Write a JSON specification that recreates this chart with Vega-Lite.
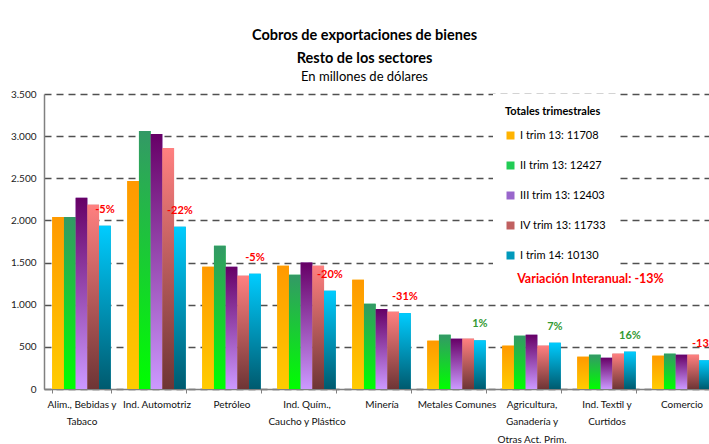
{
  "$schema": "https://vega.github.io/schema/vega-lite/v6.json",
  "width": 675,
  "height": 295,
  "autosize": {"type": "none"},
  "padding": {"left": 44, "top": 94, "right": 0, "bottom": 55},
  "background": "white",
  "config": {"view": {"stroke": null}, "font": "Lato"},
  "title": {
    "text": ["Cobros de exportaciones de bienes", "Resto de los sectores"],
    "subtitle": "En millones de dólares",
    "anchor": "middle",
    "frame": "group",
    "dx": -17,
    "offset": 4,
    "font": "Lato",
    "fontSize": 14.5,
    "fontWeight": "bold",
    "lineHeight": 23,
    "color": "black",
    "subtitleFont": "Lato",
    "subtitleFontSize": 13,
    "subtitleColor": "black",
    "subtitlePadding": 5
  },
  "datasets": {
    "barras": [
      {"sector": "Alim., Bebidas y|Tabaco", "serie": "I trim 13: 11708", "valor": 2042},
      {"sector": "Alim., Bebidas y|Tabaco", "serie": "II trim 13: 12427", "valor": 2042},
      {"sector": "Alim., Bebidas y|Tabaco", "serie": "III trim 13: 12403", "valor": 2268},
      {"sector": "Alim., Bebidas y|Tabaco", "serie": "IV trim 13: 11733", "valor": 2185},
      {"sector": "Alim., Bebidas y|Tabaco", "serie": "I trim 14: 10130", "valor": 1936},
      {"sector": "Ind. Automotriz", "serie": "I trim 13: 11708", "valor": 2469},
      {"sector": "Ind. Automotriz", "serie": "II trim 13: 12427", "valor": 3062},
      {"sector": "Ind. Automotriz", "serie": "III trim 13: 12403", "valor": 3026},
      {"sector": "Ind. Automotriz", "serie": "IV trim 13: 11733", "valor": 2860},
      {"sector": "Ind. Automotriz", "serie": "I trim 14: 10130", "valor": 1924},
      {"sector": "Petróleo", "serie": "I trim 13: 11708", "valor": 1450},
      {"sector": "Petróleo", "serie": "II trim 13: 12427", "valor": 1699},
      {"sector": "Petróleo", "serie": "III trim 13: 12403", "valor": 1450},
      {"sector": "Petróleo", "serie": "IV trim 13: 11733", "valor": 1343},
      {"sector": "Petróleo", "serie": "I trim 14: 10130", "valor": 1367},
      {"sector": "Ind. Quím.,|Caucho y Plástico", "serie": "I trim 13: 11708", "valor": 1462},
      {"sector": "Ind. Quím.,|Caucho y Plástico", "serie": "II trim 13: 12427", "valor": 1355},
      {"sector": "Ind. Quím.,|Caucho y Plástico", "serie": "III trim 13: 12403", "valor": 1501},
      {"sector": "Ind. Quím.,|Caucho y Plástico", "serie": "IV trim 13: 11733", "valor": 1462},
      {"sector": "Ind. Quím.,|Caucho y Plástico", "serie": "I trim 14: 10130", "valor": 1165},
      {"sector": "Minería", "serie": "I trim 13: 11708", "valor": 1296},
      {"sector": "Minería", "serie": "II trim 13: 12427", "valor": 1011},
      {"sector": "Minería", "serie": "III trim 13: 12403", "valor": 948},
      {"sector": "Minería", "serie": "IV trim 13: 11733", "valor": 916},
      {"sector": "Minería", "serie": "I trim 14: 10130", "valor": 900},
      {"sector": "Metales Comunes", "serie": "I trim 13: 11708", "valor": 573},
      {"sector": "Metales Comunes", "serie": "II trim 13: 12427", "valor": 644},
      {"sector": "Metales Comunes", "serie": "III trim 13: 12403", "valor": 597},
      {"sector": "Metales Comunes", "serie": "IV trim 13: 11733", "valor": 597},
      {"sector": "Metales Comunes", "serie": "I trim 14: 10130", "valor": 577},
      {"sector": "Agricultura,|Ganadería y|Otras Act. Prim.", "serie": "I trim 13: 11708", "valor": 514},
      {"sector": "Agricultura,|Ganadería y|Otras Act. Prim.", "serie": "II trim 13: 12427", "valor": 632},
      {"sector": "Agricultura,|Ganadería y|Otras Act. Prim.", "serie": "III trim 13: 12403", "valor": 644},
      {"sector": "Agricultura,|Ganadería y|Otras Act. Prim.", "serie": "IV trim 13: 11733", "valor": 514},
      {"sector": "Agricultura,|Ganadería y|Otras Act. Prim.", "serie": "I trim 14: 10130", "valor": 549},
      {"sector": "Ind. Textil y|Curtidos", "serie": "I trim 13: 11708", "valor": 383},
      {"sector": "Ind. Textil y|Curtidos", "serie": "II trim 13: 12427", "valor": 407},
      {"sector": "Ind. Textil y|Curtidos", "serie": "III trim 13: 12403", "valor": 371},
      {"sector": "Ind. Textil y|Curtidos", "serie": "IV trim 13: 11733", "valor": 419},
      {"sector": "Ind. Textil y|Curtidos", "serie": "I trim 14: 10130", "valor": 443},
      {"sector": "Comercio", "serie": "I trim 13: 11708", "valor": 395},
      {"sector": "Comercio", "serie": "II trim 13: 12427", "valor": 419},
      {"sector": "Comercio", "serie": "III trim 13: 12403", "valor": 407},
      {"sector": "Comercio", "serie": "IV trim 13: 11733", "valor": 407},
      {"sector": "Comercio", "serie": "I trim 14: 10130", "valor": 340}
    ],
    "variaciones": [
      {"sector": "Alim., Bebidas y|Tabaco", "etiqueta": "-5%", "var": -5},
      {"sector": "Ind. Automotriz", "etiqueta": "-22%", "var": -22},
      {"sector": "Petróleo", "etiqueta": "-5%", "var": -5},
      {"sector": "Ind. Quím.,|Caucho y Plástico", "etiqueta": "-20%", "var": -20},
      {"sector": "Minería", "etiqueta": "-31%", "var": -31},
      {"sector": "Metales Comunes", "etiqueta": "1%", "var": 1},
      {"sector": "Agricultura,|Ganadería y|Otras Act. Prim.", "etiqueta": "7%", "var": 7},
      {"sector": "Ind. Textil y|Curtidos", "etiqueta": "16%", "var": 16},
      {"sector": "Comercio", "etiqueta": "-13%", "var": -13}
    ],
    "nota": [
      {"sector": "Ind. Textil y|Curtidos", "valor": 1305, "texto": "Variación Interanual: -13%"}
    ]
  },
  "layer": [
    {
      "data": {"name": "barras"},
      "mark": {"type": "bar", "strokeWidth": 0},
      "encoding": {
        "x": {
          "field": "sector",
          "type": "nominal",
          "sort": null,
          "scale": {"paddingInner": 0.22, "paddingOuter": 0.11},
          "axis": {
            "title": null,
            "labelAngle": 0,
            "labelExpr": "split(datum.label, '|')",
            "labelFont": "Lato",
            "labelFontSize": 10,
            "labelColor": "#111",
            "labelLineHeight": 17.5,
            "labelPadding": 6,
            "labelLimit": 0,
            "labelBaseline": "top",
            "tickBand": "extent",
            "ticks": true,
            "tickSize": 4,
            "tickColor": "#808080",
            "domainColor": "#808080",
            "domainWidth": 1.5,
            "grid": false
          }
        },
        "xOffset": {
          "field": "serie",
          "type": "nominal",
          "scale": {
            "domain": ["I trim 13: 11708", "II trim 13: 12427", "III trim 13: 12403", "IV trim 13: 11733", "I trim 14: 10130"],
            "paddingInner": 0,
            "paddingOuter": 0
          }
        },
        "y": {
          "field": "valor",
          "type": "quantitative",
          "scale": {"domain": [0, 3500], "nice": false},
          "axis": {
            "title": null,
            "values": [0, 500, 1000, 1500, 2000, 2500, 3000, 3500],
            "labelExpr": "replace(format(datum.value, ','), ',', '.')",
            "labelFont": "Lato",
            "labelFontSize": 10,
            "labelColor": "#222",
            "labelPadding": 8,
            "ticks": false,
            "domainColor": "#808080",
            "domainWidth": 1.5,
            "grid": true,
            "gridColor": "#505050",
            "gridWidth": 1.3,
            "gridDash": [7, 5]
          }
        },
        "fill": {
          "field": "serie",
          "type": "nominal",
          "scale": {
            "domain": ["I trim 13: 11708", "II trim 13: 12427", "III trim 13: 12403", "IV trim 13: 11733", "I trim 14: 10130"],
            "range": ["#FFB300", "#22CC55", "#9966CC", "#C06060", "#0099BB"]
          },
          "legend": {
            "title": "Totales trimestrales",
            "orient": "none",
            "legendX": 449,
            "legendY": 0,
            "fillColor": "white",
            "padding": 12,
            "titleFont": "Lato",
            "titleFontSize": 11,
            "titleFontWeight": "bold",
            "titleColor": "black",
            "titlePadding": 13,
            "labelFont": "Lato",
            "labelFontSize": 11,
            "labelColor": "black",
            "labelOffset": 4,
            "symbolType": "square",
            "symbolSize": 64,
            "symbolStrokeWidth": 0,
            "rowPadding": 18,
            "encode": {
              "symbols": {
                "update": {
                  "fill": {"signal": "datum.value === 'I trim 13: 11708' ? {gradient: 'linear', x1: 0, y1: 0, x2: 0, y2: 1, stops: [{offset: 0, color: '#FF9900'}, {offset: 1, color: '#FFCC00'}]} : datum.value === 'II trim 13: 12427' ? {gradient: 'linear', x1: 0, y1: 0, x2: 0, y2: 1, stops: [{offset: 0, color: '#339966'}, {offset: 1, color: '#00FF00'}]} : datum.value === 'III trim 13: 12403' ? {gradient: 'linear', x1: 0, y1: 0, x2: 0, y2: 1, stops: [{offset: 0, color: '#660066'}, {offset: 1, color: '#CC99FF'}]} : datum.value === 'IV trim 13: 11733' ? {gradient: 'linear', x1: 0, y1: 0, x2: 0, y2: 1, stops: [{offset: 0, color: '#FF8080'}, {offset: 1, color: '#6E3535'}]} : {gradient: 'linear', x1: 0, y1: 0, x2: 0, y2: 1, stops: [{offset: 0, color: '#00CCFF'}, {offset: 1, color: '#005A6E'}]}"}
                }
              }
            }
          }
        }
      }
    },
    {
      "data": {"name": "barras"},
      "mark": {
        "type": "bar",
        "strokeWidth": 0,
        "fill": {"expr": "datum.serie === 'I trim 13: 11708' ? {gradient: 'linear', x1: 0, y1: 0, x2: 0, y2: 1, stops: [{offset: 0, color: '#FF9900'}, {offset: 1, color: '#FFCC00'}]} : datum.serie === 'II trim 13: 12427' ? {gradient: 'linear', x1: 0, y1: 0, x2: 0, y2: 1, stops: [{offset: 0, color: '#339966'}, {offset: 1, color: '#00FF00'}]} : datum.serie === 'III trim 13: 12403' ? {gradient: 'linear', x1: 0, y1: 0, x2: 0, y2: 1, stops: [{offset: 0, color: '#660066'}, {offset: 1, color: '#CC99FF'}]} : datum.serie === 'IV trim 13: 11733' ? {gradient: 'linear', x1: 0, y1: 0, x2: 0, y2: 1, stops: [{offset: 0, color: '#FF8080'}, {offset: 1, color: '#6E3535'}]} : {gradient: 'linear', x1: 0, y1: 0, x2: 0, y2: 1, stops: [{offset: 0, color: '#00CCFF'}, {offset: 1, color: '#005A6E'}]}"}
      },
      "encoding": {
        "x": {"field": "sector", "type": "nominal", "sort": null},
        "xOffset": {"field": "serie", "type": "nominal"},
        "y": {"field": "valor", "type": "quantitative"}
      }
    },
    {
      "data": {"name": "barras"},
      "transform": [
        {"filter": "datum.serie === 'I trim 14: 10130'"},
        {"lookup": "sector", "from": {"data": {"name": "variaciones"}, "key": "sector", "fields": ["etiqueta", "var"]}}
      ],
      "mark": {"type": "text", "font": "Lato", "fontSize": 11, "fontWeight": "bold", "dy": -16, "baseline": "middle"},
      "encoding": {
        "x": {"field": "sector", "type": "nominal", "sort": null},
        "xOffset": {"field": "serie", "type": "nominal"},
        "y": {"field": "valor", "type": "quantitative"},
        "text": {"field": "etiqueta"},
        "color": {"condition": {"test": "datum['var'] < 0", "value": "#FF0000"}, "value": "#339933"}
      }
    },
    {
      "data": {"name": "nota"},
      "mark": {"type": "text", "font": "Lato", "fontSize": 12.5, "fontWeight": "bold", "color": "#FF0000", "dx": -16, "baseline": "middle"},
      "encoding": {
        "x": {"field": "sector", "type": "nominal", "sort": null},
        "y": {"field": "valor", "type": "quantitative"},
        "text": {"field": "texto"}
      }
    }
  ]
}
